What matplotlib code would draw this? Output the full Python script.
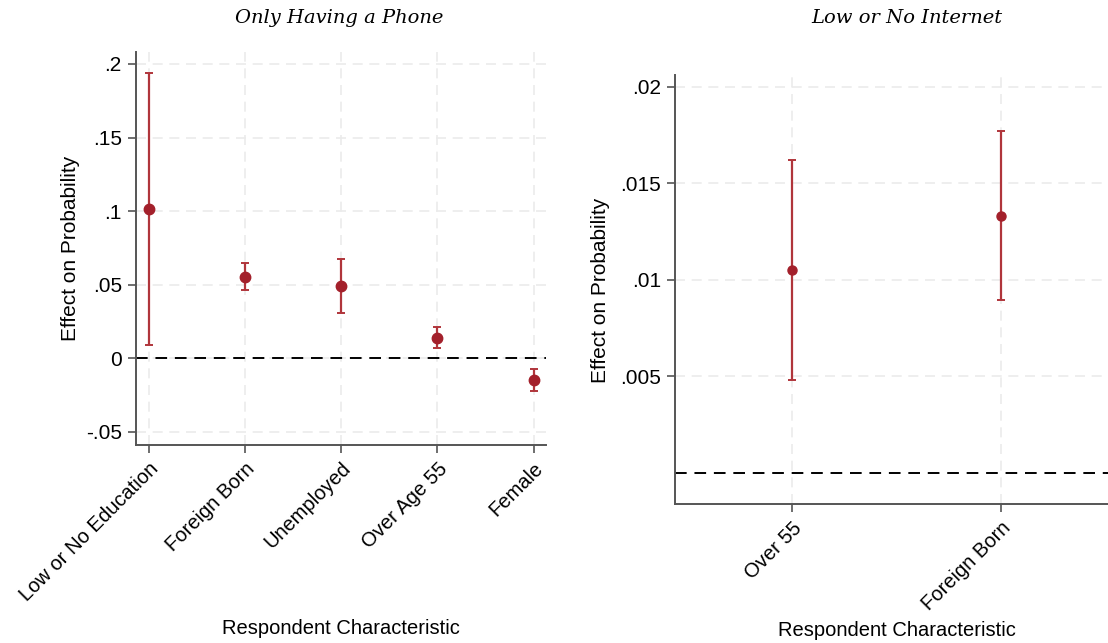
import matplotlib.pyplot as plt
import numpy as np

# marginal effects, left panel: only having a phone
phone_groups = ["Low or No Education", "Foreign Born", "Unemployed", "Over Age 55", "Female"]
phone_est = [0.1014, 0.0554, 0.0491, 0.0140, -0.0147]
phone_lo = [0.0090, 0.0464, 0.0310, 0.0070, -0.0222]
phone_hi = [0.1940, 0.0650, 0.0672, 0.0213, -0.0075]

# right panel: low or no internet
net_groups = ["Over 55", "Foreign Born"]
net_est = [0.01050, 0.01332]
net_lo = [0.00480, 0.00895]
net_hi = [0.01622, 0.01770]

dot_col = "#a3202b"
bar_col = "#b0353b"
grid_col = "#ebebeb"
spine_col = "#555555"

plt.rcParams['font.family'] = ['Liberation Sans', 'DejaVu Sans']

W, H = 1108, 643
fig = plt.figure(figsize=(W / 100, H / 100), dpi=100)


def box(left, right, top, bottom):
    # pixel edges -> figure fraction rectangle
    return [left / W, 1 - bottom / H, (right - left) / W, (bottom - top) / H]


ax1 = fig.add_axes(box(135.7, 546, 51.7, 445))
ax2 = fig.add_axes(box(675, 1118, 75, 504.3))


def coef_panel(ax, groups, est, lo, hi, ticks, ticklabels, xlim, ylim, ms):
    x = np.arange(len(groups))
    est = np.array(est)
    err = [est - np.array(lo), np.array(hi) - est]
    ax.axhline(0, color="black", lw=1.4, ls=(0, (6, 4)), zorder=2)
    ax.errorbar(x, est, yerr=err, fmt="none", ecolor=bar_col, elinewidth=1.6,
                capsize=3, capthick=1.4, zorder=3)
    ax.plot(x, est, "o", color=dot_col, ms=ms, zorder=4)
    ax.set_xlim(*xlim)
    ax.set_ylim(*ylim)
    ax.set_yticks(ticks)
    ax.set_yticklabels(ticklabels, fontsize=15)
    ax.set_xticks(x)
    ax.set_xticklabels(groups, rotation=45, ha="right", rotation_mode="anchor", fontsize=14.5)
    ax.grid(True, color=grid_col, ls=(0, (6, 4)), lw=1.2, zorder=0)
    ax.set_axisbelow(True)
    for s in ["top", "right"]:
        ax.spines[s].set_visible(False)
    for s in ["left", "bottom"]:
        ax.spines[s].set_color(spine_col)
        ax.spines[s].set_linewidth(1.4)
    ax.tick_params(color=spine_col, length=6, width=1.2, pad=4)
    ax.set_ylabel("Effect on Probability", fontsize=15)
    ax.set_xlabel("Respondent Characteristic", fontsize=14.5)


coef_panel(ax1, phone_groups, phone_est, phone_lo, phone_hi,
           [-0.05, 0, 0.05, 0.1, 0.15, 0.2], ["-.05", "0", ".05", ".1", ".15", ".2"],
           (-0.135, 4.128), (-0.0589, 0.2083), 7.5)
coef_panel(ax2, net_groups, net_est, net_lo, net_hi,
           [0.005, 0.01, 0.015, 0.02], [".005", ".01", ".015", ".02"],
           (-0.561, 1.561), (-0.00164, 0.0206), 6.5)

ax1.yaxis.set_label_coords(70 / W, 1 - 248 / H, transform=fig.transFigure)
ax2.yaxis.set_label_coords(600 / W, 1 - 290 / H, transform=fig.transFigure)
ax1.xaxis.set_label_coords(341 / W, 1 - 628 / H, transform=fig.transFigure)
ax2.xaxis.set_label_coords(897 / W, 1 - 630 / H, transform=fig.transFigure)
ax1.xaxis.label.set_va("center")
ax2.xaxis.label.set_va("center")
ax1.yaxis.label.set_va("center")
ax2.yaxis.label.set_va("center")

fig.text(339 / W, 1 - 18 / H, "Only Having a Phone", family="DejaVu Serif", style="italic",
         fontsize=14, ha="center", va="center")
fig.text(907 / W, 1 - 18 / H, "Low or No Internet", family="DejaVu Serif", style="italic",
         fontsize=14, ha="center", va="center")

fig.savefig("out.png", dpi=100)
